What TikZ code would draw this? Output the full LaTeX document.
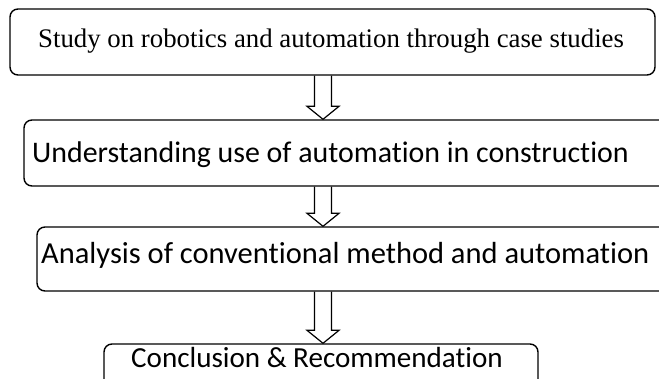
\documentclass[tikz,border=0pt]{standalone}
\usepackage{fontspec}
\setmainfont{Liberation Serif}
\newfontfamily\calfont[Ligatures=CommonOff]{Carlito}
\usetikzlibrary{calc}
\tikzset{
  box/.style={draw, line width=1.4pt, rounded corners=8pt, minimum width=#1, inner sep=0pt, minimum height=66pt},
  lbl/.style={anchor=base west, inner sep=0pt},
  fat/.style={line width=1.2pt, to path={let \p1=(\tikztostart), \p2=(\tikztotarget) in
    (\x1-8.5pt,\y1) -- (\x1-8.5pt,\y2+13pt) -- (\x1-16pt,\y2+13pt) -- (\x1,\y2) -- (\x1+16pt,\y2+13pt) -- (\x1+8.5pt,\y2+13pt) -- (\x1+8.5pt,\y1)}}
}
\begin{document}
\begin{tikzpicture}[x=1pt,y=-1pt]
\useasboundingbox (0,0) rectangle (659,378);
\clip (0,0) rectangle (659,378);
\node[box=645pt] (b1) at (332.5,42) {};
\node[box=648pt] (b2) at (348,153) {};
\node[box=648pt, minimum height=64pt] (b3) at (361,259) {};
\node[box=434pt] (b4) at (321,377) {};
\node[lbl, font=\fontsize{26.8}{30}\selectfont] (t1) at (38,47) {Study on robotics and automation through case studies};
\node[lbl, font=\calfont\fontsize{29.9}{34}\selectfont] (t2) at (32,162) {Understanding use of automation in construction};
\node[lbl, font=\calfont\fontsize{30.5}{34}\selectfont] (t3) at (41,263) {Analysis of conventional method and automation};
\node[lbl, font=\calfont\fontsize{29.1}{34}\selectfont] (t4) at (131,367) {Conclusion \& Recommendation};
\coordinate (ax) at (323,0);
\draw[fat] (b1.south -| ax) to (b2.north -| ax);
\draw[fat] (b2.south -| ax) to (b3.north -| ax);
\draw[fat] (b3.south -| ax) to (b4.north -| ax);
\end{tikzpicture}
\end{document}
